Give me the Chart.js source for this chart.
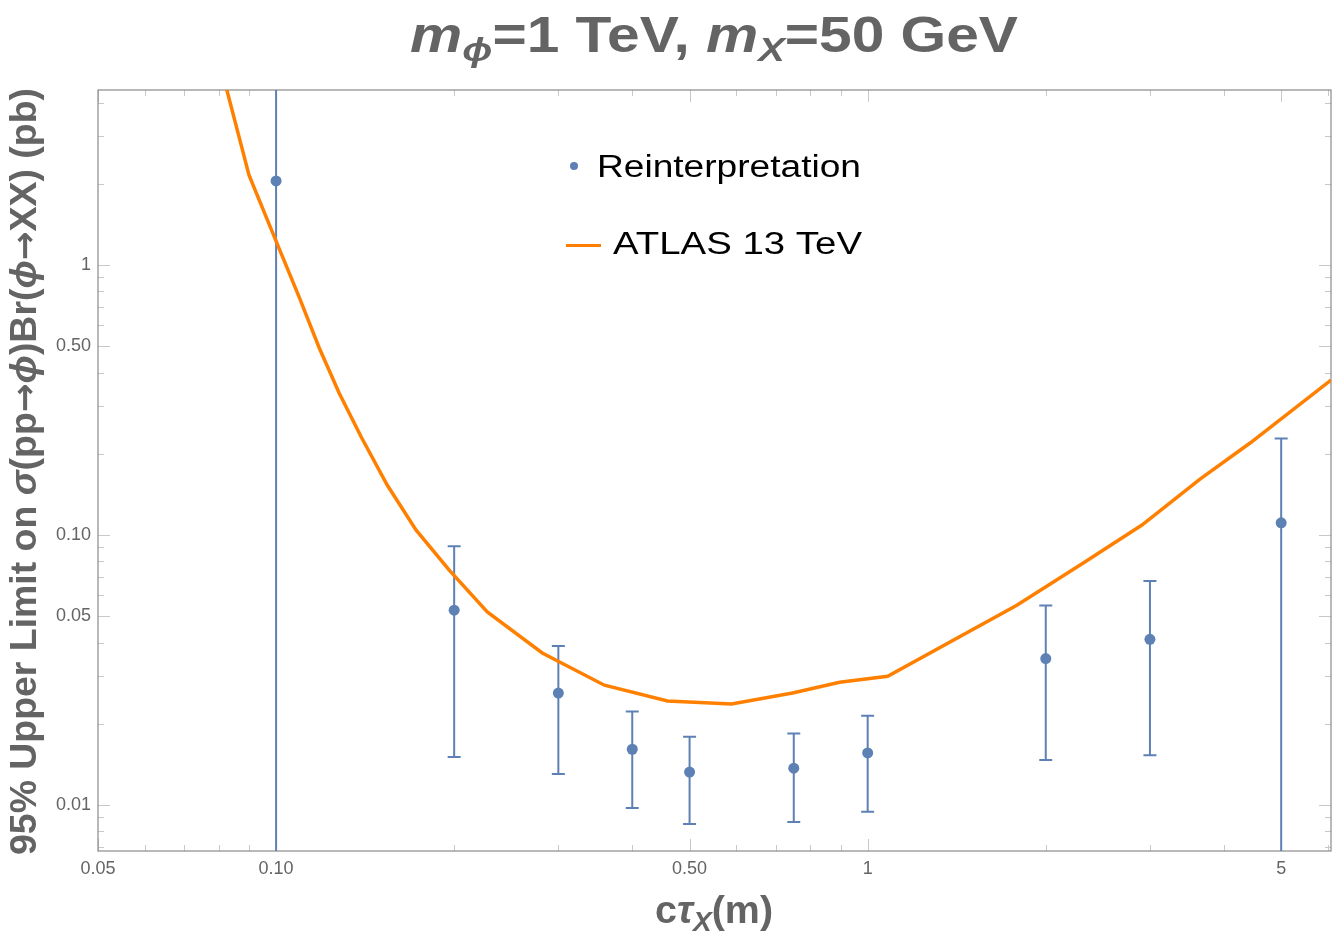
<!DOCTYPE html>
<html>
<head>
<meta charset="utf-8">
<title>Upper limit vs c tau</title>
<script src="https://cdn.jsdelivr.net/npm/chart.js@4.4.1/dist/chart.umd.min.js"></script>
<style>
  html, body { margin: 0; padding: 0; background: #fff; }
  #wrap { width: 1340px; height: 938px; position: relative; }
</style>
</head>
<body>
<div id="wrap"><canvas id="limitChart"></canvas></div>
<script>
// reinterpretation points (c tau in m, limit in pb)
const ctau = [0.1, 0.2, 0.3, 0.4, 0.5, 0.75, 1, 2, 3, 5];
const limit = [2.05, 0.0527, 0.026, 0.0161, 0.01325, 0.0137, 0.0156, 0.0349, 0.0411, 0.111];
const limitHi = [20, 0.091, 0.0388, 0.0222, 0.0179, 0.0184, 0.0214, 0.0549, 0.0676, 0.228];
const limitLo = [0.001, 0.01507, 0.01303, 0.00975, 0.00851, 0.00865, 0.00945, 0.0147, 0.0153, 0.001];

// ATLAS 13 TeV observed curve
const atlasX = [0.08, 0.09, 0.1, 0.1094, 0.1183, 0.1278, 0.1393, 0.1541, 0.1725, 0.1962, 0.2275,
  0.2818, 0.3589, 0.4588, 0.5886, 0.7466, 0.8966, 1.081, 1.787, 2.311, 2.908, 3.646, 4.43, 6.07];
const atlasY = [5.8, 2.154, 1.227, 0.761, 0.493, 0.336, 0.2307, 0.1532, 0.1043, 0.0742, 0.0519,
  0.0366, 0.0278, 0.0243, 0.0237, 0.026, 0.0285, 0.03, 0.055, 0.0787, 0.1089, 0.1612, 0.2192, 0.375];

// axis ticks
const xMajor = [0.05, 0.1, 0.5, 1, 5];
const xMajorLabels = ['0.05', '0.10', '0.50', '1', '5'];
const xMinor = [0.06, 0.07, 0.08, 0.09, 0.2, 0.3, 0.4, 0.6, 0.7, 0.8, 0.9, 2, 3, 4, 6];
const yMajor = [0.01, 0.05, 0.1, 0.5, 1];
const yMajorLabels = ['0.01', '0.05', '0.10', '0.50', '1'];
const yMinor = [0.007, 0.008, 0.009, 0.02, 0.03, 0.04, 0.06, 0.07, 0.08, 0.09,
  0.2, 0.3, 0.4, 0.6, 0.7, 0.8, 0.9, 2, 3, 4];

const blue = '#5e81b5';
const orange = '#ff8000';
const grey = '#646464';
const FAM = '"Liberation Sans", Arial, sans-serif';

// draw a run of differently styled pieces, squeezed to a given width
function richText(ctx, parts, x, y, width) {
  let total = 0;
  parts.forEach(p => { ctx.font = p.font; p.w = ctx.measureText(p.t).width; total += p.w; });
  const sx = width ? width / total : 1;
  ctx.save();
  ctx.translate(x, y);
  ctx.scale(sx, 1);
  let cx = 0;
  parts.forEach(p => {
    ctx.font = p.font;
    ctx.fillText(p.t, cx, p.dy || 0);
    cx += p.w;
  });
  ctx.restore();
}

const decorations = {
  id: 'decorations',
  beforeDatasetsDraw(chart) {
    const ctx = chart.ctx;
    const a = chart.chartArea;
    const xs = chart.scales.x, ys = chart.scales.y;
    ctx.save();
    // inward ticks on all four sides
    ctx.strokeStyle = '#c8c8c8';
    ctx.lineWidth = 1;
    const tick = (v, len, axis) => {
      ctx.beginPath();
      if (axis === 'x') {
        const p = Math.round(xs.getPixelForValue(v)) + 0.5;
        ctx.moveTo(p, a.bottom); ctx.lineTo(p, a.bottom - len);
        ctx.moveTo(p, a.top); ctx.lineTo(p, a.top + len);
      } else {
        const p = Math.round(ys.getPixelForValue(v)) + 0.5;
        ctx.moveTo(a.left, p); ctx.lineTo(a.left + len, p);
        ctx.moveTo(a.right, p); ctx.lineTo(a.right - len, p);
      }
      ctx.stroke();
    };
    xMajor.forEach(v => tick(v, 12, 'x'));
    xMinor.forEach(v => tick(v, 6, 'x'));
    yMajor.forEach(v => tick(v, 12, 'y'));
    yMinor.forEach(v => tick(v, 6, 'y'));

    // frame
    ctx.strokeStyle = '#8a8a8a';
    ctx.lineWidth = 1.2;
    ctx.strokeRect(a.left, a.top, a.right - a.left, a.bottom - a.top);

    // error bars
    ctx.beginPath();
    ctx.rect(a.left, a.top, a.right - a.left, a.bottom - a.top);
    ctx.clip();
    ctx.strokeStyle = blue;
    ctx.lineWidth = 2;
    for (let i = 0; i < ctau.length; i++) {
      const px = xs.getPixelForValue(ctau[i]);
      const hi = ys.getPixelForValue(limitHi[i]);
      const lo = ys.getPixelForValue(limitLo[i]);
      ctx.beginPath();
      ctx.moveTo(px, lo); ctx.lineTo(px, hi);
      ctx.moveTo(px - 6.5, hi); ctx.lineTo(px + 6.5, hi);
      ctx.moveTo(px - 6.5, lo); ctx.lineTo(px + 6.5, lo);
      ctx.stroke();
    }
    ctx.restore();
  },
  afterDraw(chart) {
    const ctx = chart.ctx;
    const a = chart.chartArea;
    const xs = chart.scales.x, ys = chart.scales.y;
    ctx.save();
    // tick labels
    ctx.fillStyle = grey;
    ctx.font = '18px ' + FAM;
    ctx.textAlign = 'center';
    ctx.textBaseline = 'top';
    xMajor.forEach((v, i) => ctx.fillText(xMajorLabels[i], xs.getPixelForValue(v), a.bottom + 9));
    ctx.textAlign = 'right';
    ctx.textBaseline = 'middle';
    yMajor.forEach((v, i) => ctx.fillText(yMajorLabels[i], a.left - 7, ys.getPixelForValue(v)));

    ctx.textAlign = 'left';
    ctx.textBaseline = 'alphabetic';
    // title
    const B = 'bold 50px ' + FAM, BI = 'italic bold 50px ' + FAM, SI = 'italic bold 34px ' + FAM;
    richText(ctx, [
      { t: 'm', font: BI }, { t: 'ϕ', font: SI, dy: 9 }, { t: '=1 TeV, ', font: B },
      { t: 'm', font: BI }, { t: 'X', font: SI, dy: 9 }, { t: '=50 GeV', font: B }
    ], 410, 52, 608);

    // x axis title
    const XB = 'bold 38px ' + FAM, XI = 'italic bold 38px ' + FAM, XS = 'italic bold 27px ' + FAM;
    richText(ctx, [
      { t: 'c', font: XB }, { t: 'τ', font: XI }, { t: 'X', font: XS, dy: 8 }, { t: '(m)', font: XB }
    ], 655, 923, 118);

    // y axis title
    const YB = 'bold 37px ' + FAM, YI = 'italic bold 37px ' + FAM, YA = 'bold 34px "DejaVu Sans", sans-serif';
    ctx.save();
    ctx.translate(36, 855);
    ctx.rotate(-Math.PI / 2);
    richText(ctx, [
      { t: '95% Upper Limit on ', font: YB }, { t: 'σ', font: YI }, { t: '(pp', font: YB },
      { t: '→', font: YA }, { t: 'ϕ', font: YI }, { t: ')Br(', font: YB }, { t: 'ϕ', font: YI },
      { t: '→', font: YA }, { t: 'XX) (pb)', font: YB }
    ], 0, 0, 767);
    ctx.restore();

    // legend
    ctx.fillStyle = blue;
    ctx.beginPath();
    ctx.arc(574, 166, 4, 0, Math.PI * 2);
    ctx.fill();
    ctx.strokeStyle = orange;
    ctx.lineWidth = 3;
    ctx.beginPath();
    ctx.moveTo(566, 245.5); ctx.lineTo(601, 245.5);
    ctx.stroke();
    ctx.fillStyle = '#000';
    richText(ctx, [{ t: 'Reinterpretation', font: '31px ' + FAM }], 597, 177, 264);
    richText(ctx, [{ t: 'ATLAS 13 TeV', font: '31px ' + FAM }], 613, 254, 249);
    ctx.restore();
  }
};

const ctx = document.getElementById('limitChart').getContext('2d');
new Chart(ctx, {
  type: 'scatter',
  data: {
    datasets: [
      {
        label: 'ATLAS 13 TeV',
        data: atlasX.map((x, i) => ({ x: x, y: atlasY[i] })),
        showLine: true,
        borderColor: orange,
        borderWidth: 3.5,
        pointRadius: 0,
        tension: 0,
        clip: 0
      },
      {
        label: 'Reinterpretation',
        data: ctau.map((x, i) => ({ x: x, y: limit[i] })),
        backgroundColor: blue,
        borderColor: blue,
        pointRadius: 5.5,
        borderWidth: 0
      }
    ]
  },
  options: {
    responsive: true,
    maintainAspectRatio: false,
    animation: false,
    layout: { padding: { left: 98, right: 9, top: 90, bottom: 87 } },
    plugins: { legend: { display: false }, title: { display: false }, tooltip: { enabled: false } },
    scales: {
      x: { type: 'logarithmic', min: 0.05, max: 6.07, display: false },
      y: { type: 'logarithmic', min: 0.00676, max: 4.45, display: false }
    }
  },
  plugins: [decorations]
});
</script>
</body>
</html>
